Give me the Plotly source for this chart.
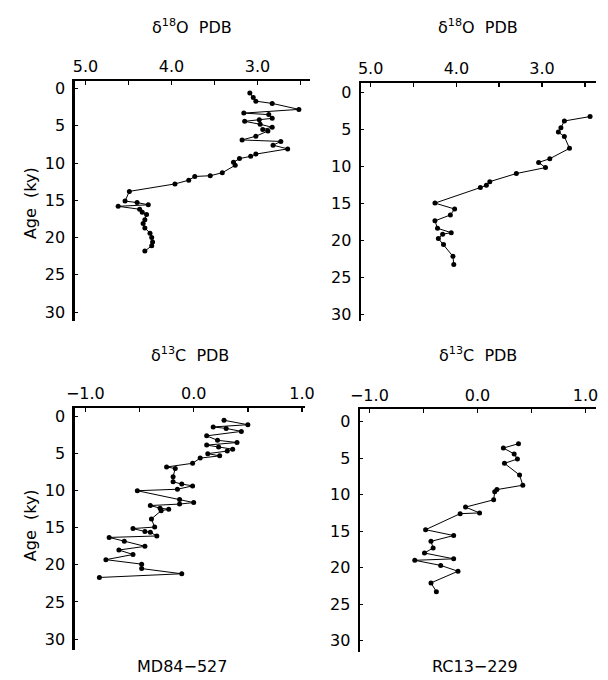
import plotly.graph_objects as go

# ---------------- data ----------------
# MD84-527 delta18O
age_md_o = [0.6, 1.2, 1.7, 2.0, 2.8, 3.3, 3.5, 4.0, 4.2, 4.4, 4.8, 5.2, 5.5, 5.7, 6.4, 6.9, 7.1, 7.6,
            8.1, 8.8, 9.1, 9.4, 9.9, 10.3, 11.3, 11.7, 11.8, 12.3, 12.8, 13.8, 15.1, 15.3, 15.6, 15.8,
            16.2, 16.6, 16.9, 17.6, 18.1, 18.7, 19.4, 20.0, 20.6, 21.1, 21.8]
d18o_md = [3.09, 3.05, 3.02, 2.83, 2.52, 3.16, 2.87, 2.83, 2.98, 3.15, 2.97, 2.83, 2.94, 2.88, 3.02,
           3.18, 2.73, 2.82, 2.65, 3.02, 3.08, 3.21, 3.28, 3.26, 3.41, 3.55, 3.73, 3.80, 3.96, 4.49,
           4.54, 4.40, 4.27, 4.62, 4.37, 4.34, 4.29, 4.31, 4.33, 4.31, 4.25, 4.23, 4.22, 4.23, 4.31]

# RC13-229 delta18O
age_rc_o = [3.3, 3.9, 4.8, 5.4, 6.0, 7.6, 9.0, 9.5, 10.2, 11.0, 12.1, 12.6, 12.9, 15.0, 15.8, 16.6,
            17.4, 18.4, 19.0, 19.2, 19.8, 20.6, 22.2, 23.3]
d18o_rc = [2.44, 2.74, 2.78, 2.81, 2.74, 2.68, 2.91, 3.04, 2.96, 3.30, 3.61, 3.65, 3.72, 4.25, 4.02,
           4.07, 4.25, 4.22, 4.06, 4.16, 4.21, 4.15, 4.04, 4.03]

# MD84-527 delta13C
age_md_c = [0.5, 1.1, 1.4, 1.6, 2.0, 2.6, 3.2, 3.5, 3.85, 4.1, 4.4, 4.65, 5.0, 5.3, 5.6, 6.3, 6.8, 7.0,
            8.1, 8.8, 9.1, 9.35, 9.8, 10.0, 11.2, 11.6, 11.8, 12.0, 12.35, 12.5, 12.7, 13.8, 14.9,
            15.1, 15.5, 15.6, 16.1, 16.3, 16.8, 17.5, 18.0, 18.6, 19.3, 19.9, 20.5, 21.2, 21.7]
d13c_md = [0.28, 0.50, 0.18, 0.30, 0.44, 0.12, 0.22, 0.40, 0.12, 0.23, 0.36, 0.31, 0.13, 0.24, 0.06,
           -0.01, -0.25, -0.17, -0.19, -0.19, -0.11, -0.01, -0.15, -0.52, -0.13, 0.00, -0.13, -0.40,
           -0.31, -0.23, -0.30, -0.39, -0.36, -0.56, -0.45, -0.40, -0.34, -0.78, -0.64, -0.45, -0.69,
           -0.56, -0.81, -0.48, -0.48, -0.11, -0.87]

# RC13-229 delta13C
age_rc_c = [3.0, 3.6, 4.4, 5.1, 5.7, 7.3, 8.7, 9.3, 9.6, 10.7, 11.7, 12.5, 12.6, 14.8, 15.6, 16.4,
            17.3, 18.0, 18.8, 19.0, 19.7, 20.5, 22.1, 23.3]
d13c_rc = [0.38, 0.24, 0.34, 0.37, 0.25, 0.39, 0.42, 0.18, 0.16, 0.15, -0.11, 0.02, -0.16, -0.48,
           -0.22, -0.43, -0.41, -0.49, -0.22, -0.58, -0.34, -0.18, -0.43, -0.38]

o_title = "δ<sup>18</sup>O  PDB"
c_title = "δ<sup>13</sup>C  PDB"
core_names = ["MD84−527", "RC13−229"]
y_label = "Age  (ky)"

# ---------------- layout helpers ----------------
W, H = 608, 680
FONT = "DejaVu Sans"


def dx(l, r):
    return [l / W, r / W]


def dy(t, b):
    return [1 - b / H, 1 - t / H]


fig = go.Figure()

panels = [
    dict(px=(67, 310), py=(80, 322), xr=[5.124, 2.393], yr=[31.2, -1.07], x=d18o_md, y=age_md_o),
    dict(px=(363, 606), py=(82, 322), xr=[5.112, 2.37], yr=[30.95, -1.3], x=d18o_rc, y=age_rc_o),
    dict(px=(67, 305), py=(409, 653), xr=[-1.097, 1.027], yr=[31.5, -1.21], x=d13c_md, y=age_md_c),
    dict(px=(362, 606), py=(410.7, 655), xr=[-1.086, 1.098], yr=[31.6, -1.72], x=d13c_rc, y=age_rc_c),
]

layout = dict(
    width=W, height=H, margin=dict(l=0, r=0, t=0, b=0),
    paper_bgcolor="white", plot_bgcolor="white", showlegend=False,
    font=dict(family=FONT, size=16, color="black"),
)

for i, p in enumerate(panels, start=1):
    sfx = "" if i == 1 else str(i)
    fig.add_trace(go.Scatter(
        x=p["x"], y=p["y"], mode="lines+markers",
        line=dict(color="black", width=1),
        marker=dict(color="black", size=5),
        xaxis="x" + sfx, yaxis="y" + sfx, cliponaxis=False,
    ))
    layout["xaxis" + sfx] = dict(
        domain=dx(*p["px"]), range=p["xr"], side="top", anchor="y" + sfx,
        showline=True, linecolor="black", linewidth=2, showgrid=False, zeroline=False,
        ticks="inside", ticklen=4, tickwidth=1.5, tickcolor="black",
        dtick=1, tick0=0, tickformat=".1f",
        minor=dict(dtick=0.5, tick0=0, ticks="inside", ticklen=4, tickwidth=1.5, tickcolor="black"),
        tickfont=dict(family=FONT, size=16),
    )
    layout["yaxis" + sfx] = dict(
        domain=dy(*p["py"]), range=p["yr"], anchor="x" + sfx,
        showline=True, linecolor="black", linewidth=2.5, showgrid=False, zeroline=False,
        ticks="inside", ticklen=3, tickwidth=1, tickcolor="black",
        dtick=5, tick0=0, ticklabelstandoff=4,
        tickfont=dict(family=FONT, size=16),
    )

fig.update_layout(**layout)

ann = []
for cx, cy, t in [(188, 26, o_title), (484, 26, o_title), (186, 356, c_title), (484, 356, c_title)]:
    ann.append(dict(x=cx / W, y=1 - cy / H, xref="paper", yref="paper", text=t, showarrow=False,
                    font=dict(family=FONT, size=16), xanchor="center", yanchor="middle"))
for cx, cy, t in [(178, 669, core_names[0]), (481, 669, core_names[1])]:
    ann.append(dict(x=cx / W, y=1 - cy / H, xref="paper", yref="paper", text=t, showarrow=False,
                    font=dict(family=FONT, size=16), xanchor="center", yanchor="middle"))
for cy in [203, 527]:
    ann.append(dict(x=22 / W, y=1 - cy / H, xref="paper", yref="paper", text=y_label, showarrow=False,
                    textangle=-90, font=dict(family=FONT, size=16), xanchor="center", yanchor="middle"))
fig.update_layout(annotations=ann)

fig.write_html(
    "out.html",
    config={"displayModeBar": False, "staticPlot": True},
    post_script="document.body.style.margin='0';document.body.style.overflow='hidden';",
)
